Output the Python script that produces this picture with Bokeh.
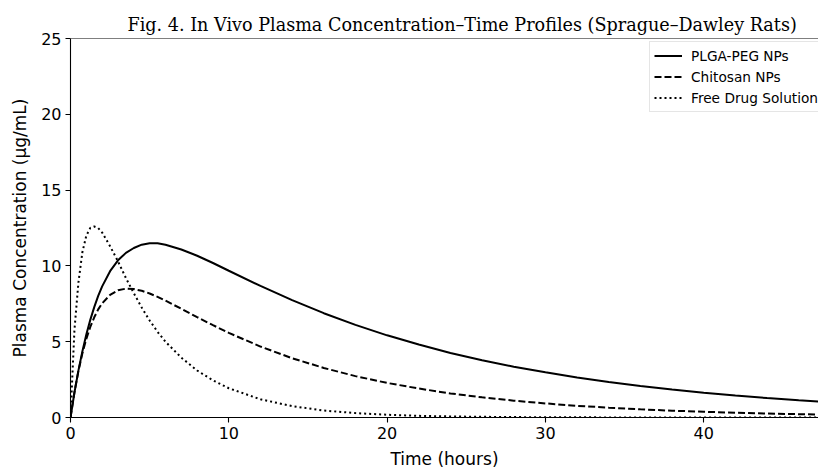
from bokeh.plotting import figure
from bokeh.models import Range1d, FixedTicker, Legend, LegendItem, Title, Span
from bokeh.embed import file_html
from bokeh.resources import INLINE

# Time points (hours)
time_h = [0, 0.25, 0.5, 0.75, 1, 1.25, 1.5, 1.75, 2, 2.5, 3, 3.5, 4, 4.5, 5, 5.5, 6,
          7, 8, 9, 10, 12, 14, 16, 18, 20, 22, 24, 26, 28, 30, 32, 34, 36, 38, 40,
          42, 44, 46, 48]

# Plasma concentration (µg/mL)
plga_peg = [0, 1.65, 3.09, 4.36, 5.48, 6.44, 7.28, 8.02, 8.65, 9.65, 10.37, 10.86,
            11.18, 11.40, 11.50, 11.49, 11.40, 11.08, 10.67, 10.19, 9.68, 8.68, 7.74,
            6.88, 6.11, 5.42, 4.81, 4.26, 3.78, 3.35, 2.98, 2.64, 2.34, 2.08, 1.84,
            1.63, 1.45, 1.28, 1.14, 1.01]
chitosan = [0, 1.68, 3.07, 4.23, 5.19, 5.97, 6.61, 7.13, 7.53, 8.09, 8.39, 8.50,
            8.47, 8.36, 8.18, 7.96, 7.71, 7.17, 6.62, 6.09, 5.58, 4.68, 3.91, 3.27,
            2.73, 2.28, 1.91, 1.59, 1.33, 1.11, 0.93, 0.77, 0.65, 0.54, 0.45, 0.38,
            0.31, 0.26, 0.22, 0.18]
free_drug = [0, 5.8, 8.9, 10.9, 12.0, 12.5, 12.6, 12.5, 12.2, 11.3, 10.3, 9.2, 8.2,
             7.25, 6.4, 5.65, 5.0, 3.95, 3.1, 2.45, 1.93, 1.2, 0.75, 0.46, 0.29, 0.18,
             0.11, 0.07, 0.045, 0.028, 0.017, 0.011, 0.007, 0.004, 0.003, 0.002,
             0.001, 0.001, 0.0, 0.0]

series_names = ["PLGA-PEG NPs", "Chitosan NPs", "Free Drug Solution"]
x_ticks = [0, 10, 20, 30, 40]
y_ticks = [0, 5, 10, 15, 20, 25]

TICK_FONT = "DejaVu Sans"

p = figure(width=818, height=471, output_backend="svg", toolbar_location=None,
           x_range=Range1d(0, 47.25), y_range=Range1d(0, 25),
           min_border_left=70, min_border_right=0, min_border_top=38,
           min_border_bottom=53)
p.title = Title(text="Fig. 4. In Vivo Plasma Concentration\u2013Time Profiles (Sprague\u2013Dawley Rats)",
                text_font="DejaVu Serif", text_font_size="17.6px",
                text_font_style="normal", align="left", offset=57,
                text_color="black", standoff=8)
p.outline_line_color = None
p.xgrid.visible = False
p.ygrid.visible = False
p.background_fill_color = "white"
p.border_fill_color = "white"

bottom_axis = p.below[0]
left_axis = p.left[0]

p.add_layout(Span(location=25, dimension="width", line_color="black", line_width=1.1))

for ax, ticks, label in [(bottom_axis, x_ticks, "Time (hours)"),
                         (left_axis, y_ticks, "Plasma Concentration (\u03bcg/mL)")]:
    ax.ticker = FixedTicker(ticks=ticks)
    ax.axis_label = label
    ax.axis_label_text_font = TICK_FONT
    ax.axis_label_text_font_size = "17px"
    ax.axis_label_text_font_style = "normal"
    ax.axis_label_text_color = "black"
    ax.major_label_text_font = TICK_FONT
    ax.major_label_text_font_size = "16px"
    ax.major_label_text_color = "black"
    ax.axis_line_color = "black"
    ax.axis_line_width = 1.1
    ax.major_tick_line_color = "black"
    ax.major_tick_line_width = 1.1
    ax.major_tick_out = 5
    ax.major_tick_in = 0
    ax.minor_tick_line_color = None
    ax.major_label_standoff = 4
bottom_axis.axis_label_standoff = 7
left_axis.axis_label_standoff = 8

r1 = p.line(time_h, plga_peg, line_color="black", line_width=2)
r2 = p.line(time_h, chitosan, line_color="black", line_width=2, line_dash="7 3")
r3 = p.line(time_h, free_drug, line_color="black", line_width=2, line_dash="2 3")

legend = Legend(items=[LegendItem(label=series_names[0], renderers=[r1]),
                       LegendItem(label=series_names[1], renderers=[r2]),
                       LegendItem(label=series_names[2], renderers=[r3])],
                location=(579, 305), glyph_width=28, label_standoff=9,
                padding=4, spacing=2, label_height=19, glyph_height=19,
                label_text_font=TICK_FONT, label_text_font_size="13.7px",
                label_text_color="black",
                border_line_color="#cccccc", border_line_width=1,
                background_fill_color="white", background_fill_alpha=0.8,
                margin=0)
p.add_layout(legend, "center")

open("out.html", "w").write(file_html(p, INLINE))
